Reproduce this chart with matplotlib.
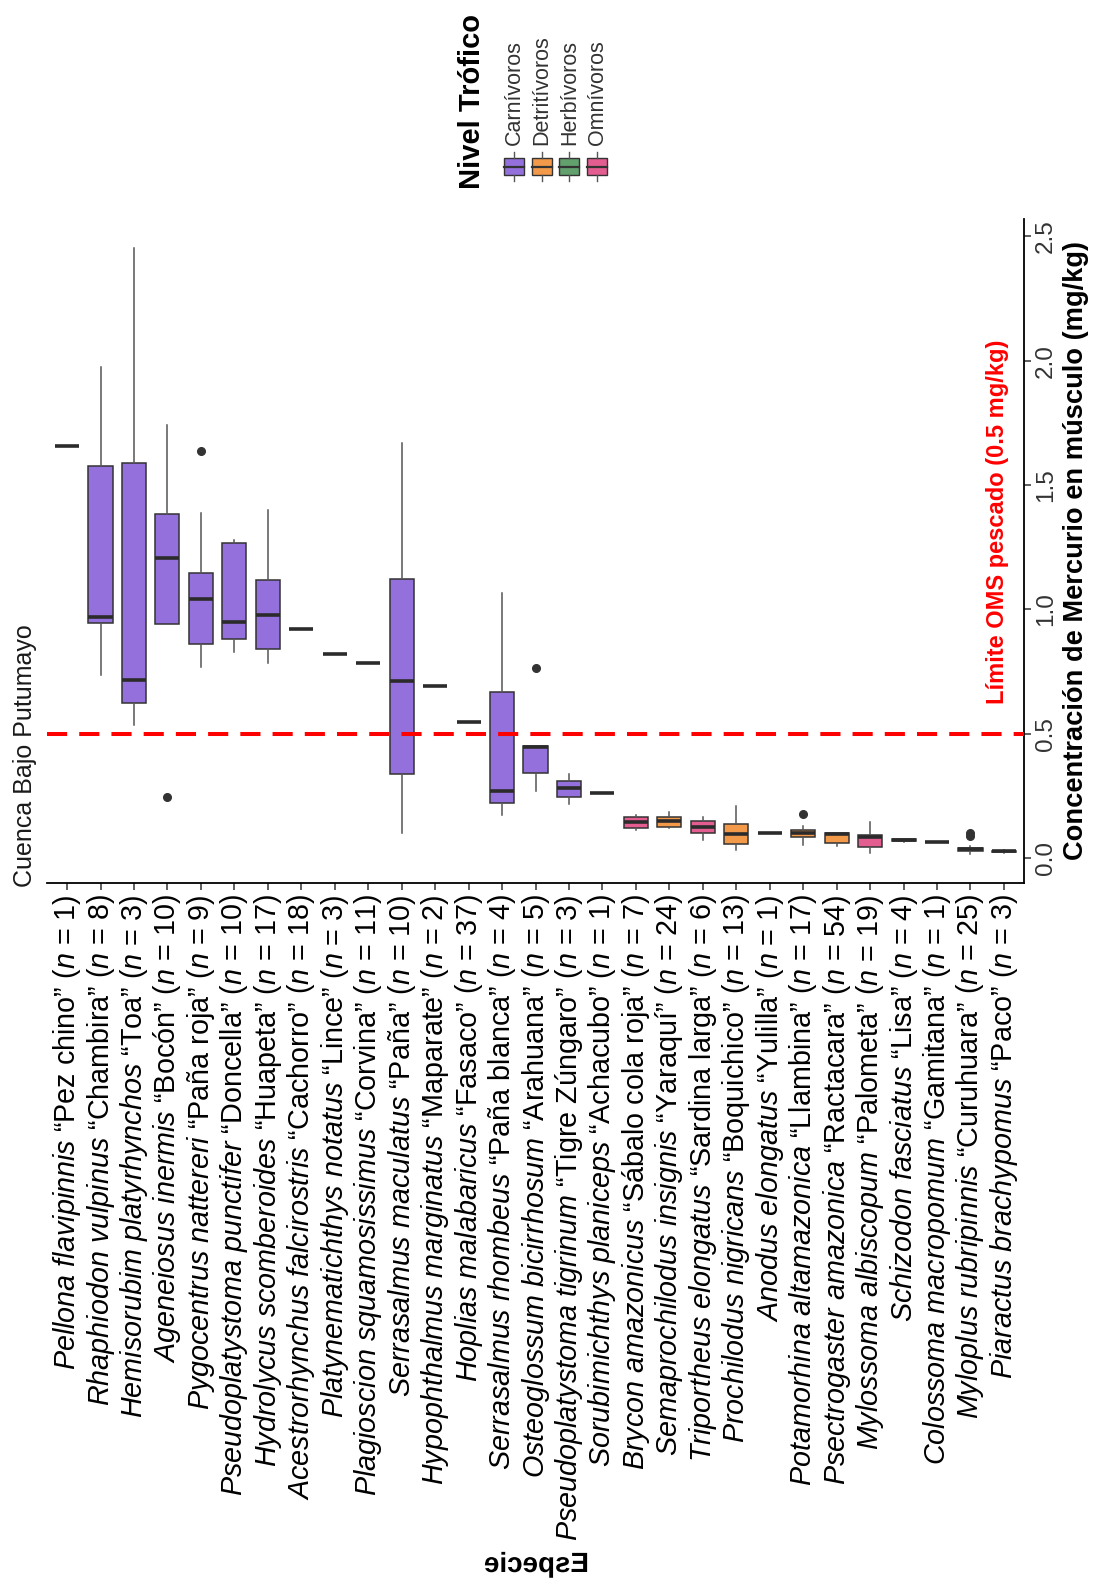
import matplotlib
matplotlib.use("Agg")
import matplotlib.pyplot as plt
from matplotlib import patheffects
from matplotlib.transforms import Affine2D
from matplotlib.path import Path
from matplotlib.patches import Rectangle
from matplotlib.lines import Line2D

plt.rcParams['font.family'] = ['Liberation Sans', 'DejaVu Sans']
plt.rcParams['mathtext.fontset'] = 'custom'
plt.rcParams['mathtext.it'] = 'Liberation Sans:italic'
plt.rcParams['mathtext.rm'] = 'Liberation Sans'
plt.rcParams['mathtext.bf'] = 'Liberation Sans:bold'

# ---------------- data ----------------
species = ["Pellona flavipinnis", "Rhaphiodon vulpinus", "Hemisorubim platyrhynchos",
           "Ageneiosus inermis", "Pygocentrus nattereri", "Pseudoplatystoma punctifer",
           "Hydrolycus scomberoides", "Acestrorhynchus falcirostris", "Platynematichthys notatus",
           "Plagioscion squamosissimus", "Serrasalmus maculatus", "Hypophthalmus marginatus",
           "Hoplias malabaricus", "Serrasalmus rhombeus", "Osteoglossum bicirrhosum",
           "Pseudoplatystoma tigrinum", "Sorubimichthys planiceps", "Brycon amazonicus",
           "Semaprochilodus insignis", "Triportheus elongatus", "Prochilodus nigricans",
           "Anodus elongatus", "Potamorhina altamazonica", "Psectrogaster amazonica",
           "Mylossoma albiscopum", "Schizodon fasciatus", "Colossoma macropomum",
           "Myloplus rubripinnis", "Piaractus brachypomus"]
common = ["Pez chino", "Chambira", "Toa", "Bocón", "Paña roja", "Doncella", "Huapeta",
          "Cachorro", "Lince", "Corvina", "Paña", "Maparate", "Fasaco", "Paña blanca",
          "Arahuana", "Tigre Zúngaro", "Achacubo", "Sábalo cola roja", "Yaraquí",
          "Sardina larga", "Boquichico", "Yulilla", "Llambina", "Ractacara", "Palometa",
          "Lisa", "Gamitana", "Curuhuara", "Paco"]
n_obs = [1, 8, 3, 10, 9, 10, 17, 18, 3, 11, 10, 2, 37, 4, 5, 3, 1, 7, 24, 6, 13, 1, 17,
         54, 19, 4, 1, 25, 3]
trophic = ["Carnívoros"] * 17 + ["Omnívoros", "Detritívoros", "Omnívoros", "Detritívoros",
           "Detritívoros", "Detritívoros", "Detritívoros", "Omnívoros", "Herbívoros",
           "Omnívoros", "Herbívoros", "Omnívoros"]

q1 = [1.657, 0.945, 0.625, 0.941, 0.861, 0.880, 0.840, 0.921, 0.821, 0.786, 0.338, 0.693,
      0.547, 0.221, 0.341, 0.245, 0.263, 0.122, 0.124, 0.102, 0.056, 0.102, 0.086, 0.060,
      0.046, 0.068, 0.066, 0.028, 0.024]
med = [1.657, 0.969, 0.716, 1.207, 1.042, 0.951, 0.977, 0.921, 0.821, 0.786, 0.713, 0.693,
       0.547, 0.270, 0.448, 0.282, 0.263, 0.146, 0.149, 0.124, 0.097, 0.102, 0.100, 0.097,
       0.086, 0.072, 0.066, 0.035, 0.027]
q3 = [1.657, 1.578, 1.589, 1.384, 1.146, 1.268, 1.118, 0.921, 0.821, 0.786, 1.122, 0.693,
      0.547, 0.668, 0.452, 0.310, 0.263, 0.166, 0.166, 0.150, 0.137, 0.102, 0.112, 0.100,
      0.092, 0.076, 0.066, 0.040, 0.030]
whisk_lo = [1.657, 0.736, 0.535, 0.941, 0.770, 0.830, 0.784, 0.921, 0.821, 0.786, 0.100,
            0.693, 0.547, 0.173, 0.270, 0.217, 0.263, 0.112, 0.120, 0.072, 0.032, 0.102,
            0.052, 0.047, 0.019, 0.066, 0.066, 0.015, 0.022]
whisk_hi = [1.657, 1.975, 2.454, 1.742, 1.389, 1.280, 1.400, 0.921, 0.821, 0.786, 1.669,
            0.693, 0.547, 1.066, 0.452, 0.338, 0.263, 0.173, 0.186, 0.166, 0.209, 0.102,
            0.129, 0.100, 0.146, 0.078, 0.066, 0.048, 0.032]
outliers = [[], [], [], [0.245], [1.637], [], [], [], [], [], [], [], [], [], [0.764], [], [],
            [], [], [], [], [], [0.177], [], [], [], [], [0.100, 0.090], []]

trophic_levels = ["Carnívoros", "Detritívoros", "Herbívoros", "Omnívoros"]
trophic_colors = ["#9370DB", "#F29A4A", "#62A06E", "#E35D91"]

yticks = [0.0, 0.5, 1.0, 1.5, 2.0, 2.5]
limit_value = 0.5

# ---------------- figure ----------------
W, H = 1093, 1582
fig = plt.figure(figsize=(W / 100, H / 100), dpi=100)
fig.patch.set_facecolor("white")


def fx(px):
    return px / W


def fy(py):
    return 1 - py / H


ax = fig.add_axes([fx(47), fy(883), fx(1024) - fx(47), fy(219) - fy(883)])

color_of = dict(zip(trophic_levels, trophic_colors))
stats = []
for i in range(len(species)):
    stats.append(dict(med=med[i], q1=q1[i], q3=q3[i], whislo=whisk_lo[i],
                      whishi=whisk_hi[i], fliers=outliers[i], label=""))

positions = list(range(1, len(species) + 1))
bp = ax.bxp(stats, positions=positions, widths=0.72, patch_artist=True, showcaps=False,
            boxprops=dict(edgecolor="#333333", linewidth=1.1),
            medianprops=dict(color="#2b2b2b", linewidth=2.6, solid_capstyle="butt"),
            whiskerprops=dict(color="#555555", linewidth=1.1),
            flierprops=dict(marker="o", markerfacecolor="#333333", markeredgecolor="#333333",
                            markersize=5.5, linestyle="none"))
for patch, t in zip(bp["boxes"], trophic):
    patch.set_facecolor(color_of[t])

ax.axhline(limit_value, color="#FF0000", lw=2.9, linestyle=(0, (5, 3)), zorder=5)
ax.text(28.8, 0.62, "Límite OMS pescado (0.5 mg/kg)", rotation=90, ha="center",
        va="bottom", color="#FF0000", fontweight="bold", fontsize=17, zorder=6)

ax.set_xlim(0.4, len(species) + 0.6)
ax.set_ylim(-0.1, 2.57)

for s in ["top", "left"]:
    ax.spines[s].set_visible(False)
for s in ["bottom", "right"]:
    ax.spines[s].set_linewidth(1.3)
    ax.spines[s].set_color("black")

ax.yaxis.tick_right()
ax.yaxis.set_label_position("right")
ax.set_yticks(yticks)
ax.set_yticklabels([f"{v:.1f}" for v in yticks])
ax.tick_params(axis="y", direction="out", length=5, width=1.1, colors="#333333",
               labelsize=17.5, pad=3)
for lab in ax.get_yticklabels():
    lab.set_rotation(90)
    lab.set_va("center")
    lab.set_ha("left")

labels = []
for sp, cm, n in zip(species, common, n_obs):
    labels.append(r"$\mathit{" + sp.replace(" ", r"\ ") + "}$ \u201c" + cm +
                  "\u201d ($\\mathit{n}$ = " + str(n) + ")")
ax.set_xticks(positions)
ax.set_xticklabels(labels, rotation=90, ha="center", va="top", fontsize=20.7,
                   color="black")
ax.tick_params(axis="x", direction="out", length=5, width=1.1, colors="#333333", pad=3)
for lab in ax.get_xticklabels():
    lab.set_color("black")

ax.set_ylabel("Concentración de Mercurio en músculo (mg/kg)", fontweight="bold",
              fontsize=19.6)
ax.yaxis.set_label_coords((1076 - 47) / 977, 0.5)
ax.yaxis.label.set_rotation(90)
ax.yaxis.label.set_rotation_mode("default")
ax.yaxis.label.set_ha("center")
ax.yaxis.label.set_va("center")


class MirrorX(patheffects.AbstractPathEffect):
    def draw_path(self, renderer, gc, tpath, affine, rgbFace=None):
        v = tpath.vertices
        if tpath.codes is not None:
            v = v[tpath.codes != Path.CLOSEPOLY]
        pts = affine.transform(v)
        cx = 0.5 * (pts[:, 0].min() + pts[:, 0].max())
        flip = Affine2D().translate(-cx, 0).scale(-1, 1).translate(cx, 0)
        renderer.draw_path(gc, tpath, affine + flip, rgbFace)


ax.set_xlabel("Especie", fontweight="bold", fontsize=20)
ax.xaxis.set_label_coords(0.5, (883 - 1565) / (883 - 219))
ax.xaxis.label.set_va("center")
ax.xaxis.label.set_path_effects([MirrorX()])

# facet strip
fig.text(fx(25), fy(887), "Cuenca Bajo Putumayo", rotation=90, ha="center", va="bottom",
         fontsize=18, color="#1a1a1a")

# legend
fig.text(fx(472), fy(189), "Nivel Trófico", rotation=90, ha="center", va="bottom",
         fontweight="bold", fontsize=21)
for i, (lev, col) in enumerate(zip(trophic_levels, trophic_colors)):
    cx = 514 + i * 27.7
    fig.add_artist(Rectangle((fx(cx - 10), fy(175)), fx(20), fy(158) - fy(175),
                             transform=fig.transFigure, facecolor=col,
                             edgecolor="#333333", lw=1.0))
    fig.add_artist(Line2D([fx(cx - 10), fx(cx + 10)], [fy(166.5), fy(166.5)],
                          transform=fig.transFigure, color="#333333", lw=1.6))
    fig.add_artist(Line2D([fx(cx), fx(cx)], [fy(152), fy(158)],
                          transform=fig.transFigure, color="#555555", lw=1.0))
    fig.add_artist(Line2D([fx(cx), fx(cx)], [fy(175), fy(181)],
                          transform=fig.transFigure, color="#555555", lw=1.0))
    fig.text(fx(cx), fy(145), lev, rotation=90, ha="center", va="bottom", fontsize=15.5,
             color="#333333")

fig.savefig("out.png", dpi=100, facecolor="white")
